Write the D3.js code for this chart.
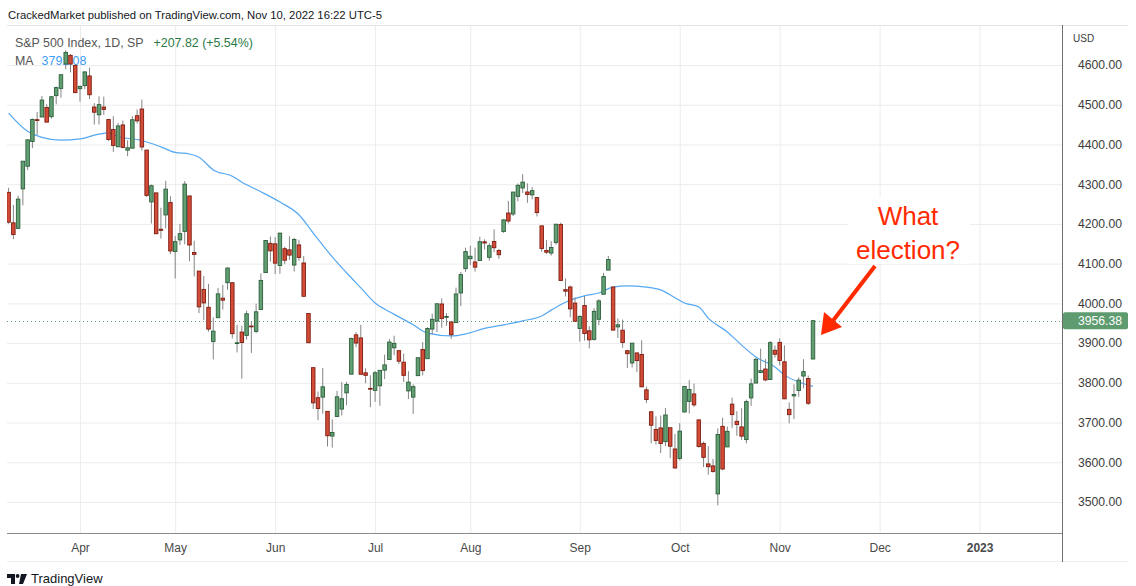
<!DOCTYPE html>
<html>
<head>
<meta charset="utf-8">
<script src="https://cdn.jsdelivr.net/npm/d3@7"></script>
<style>
  body { margin: 0; background: #fff; }
  svg { display: block; font-family: "Liberation Sans", Arial, sans-serif; }
</style>
</head>
<body>
<div id="chart"></div>
<script>
// daily bars, S&P 500, Mar 11 2022 -> Nov 10 2022 (one entry per trading day)
var dates = ["03-11","03-14","03-15","03-16","03-17","03-18","03-21","03-22","03-23","03-24","03-25","03-28","03-29","03-30","03-31",
  "04-01","04-04","04-05","04-06","04-07","04-08","04-11","04-12","04-13","04-14","04-18","04-19","04-20","04-21","04-22","04-25","04-26","04-27","04-28","04-29",
  "05-02","05-03","05-04","05-05","05-06","05-09","05-10","05-11","05-12","05-13","05-16","05-17","05-18","05-19","05-20","05-23","05-24","05-25","05-26","05-27","05-31",
  "06-01","06-02","06-03","06-06","06-07","06-08","06-09","06-10","06-13","06-14","06-15","06-16","06-17","06-21","06-22","06-23","06-24","06-27","06-28","06-29","06-30",
  "07-01","07-05","07-06","07-07","07-08","07-11","07-12","07-13","07-14","07-15","07-18","07-19","07-20","07-21","07-22","07-25","07-26","07-27","07-28","07-29",
  "08-01","08-02","08-03","08-04","08-05","08-08","08-09","08-10","08-11","08-12","08-15","08-16","08-17","08-18","08-19","08-22","08-23","08-24","08-25","08-26","08-29","08-30","08-31",
  "09-01","09-02","09-06","09-07","09-08","09-09","09-12","09-13","09-14","09-15","09-16","09-19","09-20","09-21","09-22","09-23","09-26","09-27","09-28","09-29","09-30",
  "10-03","10-04","10-05","10-06","10-07","10-10","10-11","10-12","10-13","10-14","10-17","10-18","10-19","10-20","10-21","10-24","10-25","10-26","10-27","10-28","10-31",
  "11-01","11-02","11-03","11-04","11-07","11-08","11-09","11-10"];

var opens = [4279.50,4202.75,4188.82,4288.14,4345.11,4407.34,4462.40,4469.10,4493.10,4469.98,4522.91,4541.09,4602.86,4624.20,4599.02,
  4540.32,4547.97,4572.45,4494.17,4474.65,4494.15,4462.64,4437.59,4394.30,4449.12,4385.63,4390.63,4472.26,4489.17,4385.83,4255.34,4278.14,4186.52,4222.58,4253.75,
  4130.61,4159.78,4181.18,4270.43,4128.17,4081.27,4035.18,3990.08,3903.95,3963.90,4013.02,4052.00,4051.98,3899.00,3927.76,3919.42,3942.94,3929.59,3984.60,4077.43,4151.09,
  4149.78,4095.41,4137.57,4134.72,4096.47,4147.12,4101.65,3974.39,3838.15,3762.52,3764.05,3728.18,3665.90,3715.31,3733.89,3774.71,3821.75,3920.76,3913.00,3825.09,3785.99,
  3781.00,3792.61,3831.98,3858.85,3888.26,3880.94,3851.95,3779.67,3763.99,3818.00,3883.79,3860.73,3935.32,3955.47,3998.43,3965.72,3953.22,3951.43,4026.13,4087.33,
  4112.38,4104.21,4107.96,4154.85,4115.87,4155.93,4133.11,4181.02,4227.40,4225.02,4269.37,4290.46,4280.40,4273.13,4266.31,4195.08,4133.09,4126.55,4153.26,4198.74,4034.58,4041.25,4000.67,
  3936.73,3994.66,3930.89,3909.43,3959.94,4022.94,4083.67,4041.23,3940.73,3932.41,3880.95,3849.91,3875.23,3871.40,3782.36,3727.14,3682.72,3686.44,3651.94,3687.01,3633.48,
  3609.78,3726.46,3753.25,3771.97,3706.74,3647.51,3595.86,3590.83,3520.37,3690.41,3638.65,3746.26,3703.11,3689.05,3657.10,3762.01,3799.44,3825.97,3834.69,3808.26,3881.85,
  3901.79,3852.90,3733.25,3766.98,3780.71,3817.02,3810.94,3859.89];

var highs = [4291.01,4247.57,4271.05,4357.86,4412.67,4465.40,4481.75,4522.00,4501.07,4520.58,4546.03,4575.65,4637.30,4627.77,4603.07,
  4548.70,4583.50,4593.45,4503.94,4521.16,4520.41,4464.35,4471.00,4453.92,4460.46,4410.31,4471.03,4488.29,4512.94,4385.83,4299.02,4278.14,4240.71,4308.45,4269.68,
  4169.81,4200.10,4307.66,4270.43,4157.69,4081.27,4068.82,4049.09,3964.80,4038.88,4046.46,4090.72,4051.98,3945.96,3943.42,3981.88,3955.68,3999.33,4075.14,4158.49,4168.34,
  4166.54,4177.51,4142.67,4168.78,4164.86,4160.14,4119.10,3974.39,3838.15,3778.18,3837.56,3728.18,3707.71,3779.65,3801.79,3802.58,3913.65,3927.72,3945.86,3836.50,3818.99,
  3829.82,3832.19,3870.91,3910.63,3918.50,3880.94,3873.41,3829.44,3796.41,3863.62,3902.44,3939.81,3974.13,3999.29,4012.44,3975.30,3953.22,4039.56,4078.95,4140.15,
  4144.95,4140.47,4167.66,4161.29,4151.58,4186.62,4137.30,4211.03,4257.91,4280.47,4301.79,4325.28,4302.18,4292.53,4266.31,4195.08,4159.77,4156.56,4200.54,4203.04,4062.99,4044.98,4015.37,
  3970.23,4018.43,3942.55,3987.89,4010.50,4076.81,4119.28,4041.23,3961.94,3959.14,3880.95,3900.45,3876.01,3907.07,3790.68,3727.14,3715.67,3717.53,3736.74,3687.01,3671.44,
  3698.35,3791.92,3806.91,3797.93,3706.74,3652.17,3640.66,3608.34,3685.41,3712.00,3689.73,3762.79,3728.58,3736.00,3757.89,3810.74,3862.85,3886.15,3859.95,3905.42,3893.73,
  3911.79,3894.44,3750.59,3796.34,3813.95,3859.40,3818.20,3958.33];

var lows = [4200.49,4161.72,4187.90,4246.69,4335.65,4390.57,4424.30,4469.10,4455.81,4465.17,4501.07,4517.69,4589.66,4581.32,4530.41,
  4507.57,4539.21,4514.17,4450.04,4450.30,4474.60,4408.38,4381.34,4392.70,4390.77,4370.30,4390.63,4452.68,4384.47,4267.62,4200.82,4175.04,4162.90,4188.63,4124.28,
  4062.51,4147.08,4148.91,4106.01,4067.91,3975.48,3958.17,3928.82,3858.87,3963.90,3983.99,4033.93,3911.91,3876.58,3810.32,3909.04,3875.13,3925.03,3984.60,4077.43,4104.88,
  4073.85,4074.37,4098.67,4109.18,4080.19,4107.20,4017.17,3900.16,3734.30,3705.68,3722.30,3639.77,3636.87,3715.31,3717.69,3743.52,3821.75,3889.66,3820.14,3799.02,3738.67,
  3752.10,3742.06,3809.37,3858.85,3869.34,3847.22,3802.36,3759.07,3721.56,3817.18,3818.63,3860.73,3922.03,3927.64,3938.58,3943.46,3910.74,3951.43,3992.97,4079.22,
  4096.02,4079.81,4107.96,4135.42,4107.31,4128.97,4112.09,4177.26,4201.41,4219.78,4256.90,4277.77,4253.08,4261.98,4218.70,4129.86,4124.03,4119.97,4147.59,4057.66,4017.42,3965.21,3954.53,
  3903.65,3906.21,3886.75,3906.03,3944.81,4022.94,4083.67,3932.69,3912.92,3888.28,3837.08,3838.50,3827.54,3789.49,3749.12,3647.47,3644.76,3623.29,3640.61,3610.40,3584.13,
  3604.93,3726.46,3722.66,3739.22,3636.66,3588.10,3568.45,3573.86,3491.58,3579.68,3638.65,3686.53,3666.51,3656.44,3647.42,3741.65,3799.44,3824.07,3803.79,3808.26,3863.18,
  3843.80,3758.68,3698.15,3708.84,3764.70,3786.28,3744.22,3859.89];

var closes = [4204.31,4173.11,4262.45,4357.86,4411.67,4463.12,4461.18,4511.61,4456.24,4520.16,4543.06,4575.52,4631.60,4602.45,4530.41,
  4545.86,4582.64,4525.12,4481.15,4500.21,4488.28,4412.53,4397.45,4446.59,4392.59,4391.69,4462.21,4459.45,4393.66,4271.78,4296.12,4175.20,4183.96,4287.50,4131.93,
  4155.38,4175.48,4300.17,4146.87,4123.34,3991.24,4001.05,3935.18,3930.08,4023.89,4008.01,4088.85,3923.68,3900.79,3901.36,3973.75,3941.48,3978.73,4057.84,4158.24,4132.15,
  4101.23,4176.82,4108.54,4121.43,4160.68,4115.77,4017.82,3900.86,3749.63,3735.48,3789.99,3666.77,3674.84,3764.79,3759.89,3795.73,3911.74,3900.11,3821.55,3818.83,3785.38,
  3825.33,3831.39,3845.08,3902.62,3899.38,3854.43,3818.80,3801.78,3790.38,3863.16,3830.85,3936.69,3959.90,3998.95,3961.63,3966.84,3921.05,4023.61,4072.43,4130.29,
  4118.63,4091.19,4155.17,4151.94,4145.19,4140.06,4122.47,4210.24,4207.27,4280.15,4297.14,4305.20,4274.04,4283.74,4228.48,4137.99,4128.73,4140.77,4199.12,4057.66,4030.61,3986.16,3955.00,
  3966.85,3924.26,3908.19,3979.87,4006.18,4067.36,4110.41,3932.69,3946.01,3901.35,3873.33,3899.89,3855.93,3789.93,3757.99,3693.23,3655.04,3647.29,3719.04,3640.47,3585.62,
  3678.43,3790.93,3783.28,3744.52,3639.66,3612.39,3588.84,3577.03,3669.91,3583.07,3677.95,3719.98,3695.16,3665.78,3752.75,3797.34,3859.11,3830.60,3807.30,3901.06,3871.98,
  3856.10,3759.69,3719.89,3770.55,3806.80,3828.11,3748.57,3956.38];

// moving average line at these bar numbers
var maBar = [0,4,7,11,15,19,21,23,28,32,35,38,40,43,47,49,53,57,61,64,68,71,74,77,80,82,85,88,93,96,100,104,108,112,114,117,121,124,127,130,134,137,140,142,145,147,151,154,157,161,163,166,169];
var maVal = [4479,4433,4418,4411,4414,4426,4429,4420,4410,4394,4380,4376,4368,4336,4320,4305,4281,4255,4223,4177,4117,4077,4039,4001,3979,3966,3946,3925,3918,3923,3937,3946,3956,3968,3983,4003,4019,4026,4041,4044,4041,4034,4014,4001,3991,3963,3928,3895,3865,3840,3820,3802,3791.08];

// axes
var monthBar = [15, 35, 56, 77, 97, 120, 141, 162, 183, 204];
var monthLbl = ["Apr", "May", "Jun", "Jul", "Aug", "Sep", "Oct", "Nov", "Dec", "2023"];
var priceTicks = [3500, 3600, 3700, 3800, 3900, 4000, 4100, 4200, 4300, 4400, 4500, 4600];
var lastPrice = 3956.38;

var width = 1136, height = 586;
var pLeft = 7, pRight = 1062, pTop = 25, pBottom = 533;
var up = "#62a074", upLine = "#2c5e3a", dn = "#d34c37", dnLine = "#7e1c10";

var x = d3.scaleLinear().domain([0, 204]).range([8.6, 979.6]);
var y = d3.scaleLinear().domain([3500, 4600]).range([502, 65]);

var svg = d3.select("#chart").append("svg")
    .attr("width", width)
    .attr("height", height);

svg.append("defs").append("clipPath").attr("id", "plotclip")
    .append("rect").attr("x", pLeft).attr("y", pTop).attr("width", pRight - pLeft).attr("height", pBottom - pTop);

// grid
svg.append("g")
    .attr("transform", "translate(0," + pBottom + ")")
    .call(d3.axisBottom(x).tickValues(monthBar).tickSize(-(pBottom - pTop)).tickFormat(""))
    .call(function (g) { g.select(".domain").remove(); })
    .selectAll("line").attr("stroke", "#ececec");

svg.append("g")
    .attr("transform", "translate(" + pRight + ",0)")
    .call(d3.axisLeft(y).tickValues(priceTicks).tickSize(pRight - pLeft).tickFormat(""))
    .call(function (g) { g.select(".domain").remove(); })
    .selectAll("line").attr("stroke", "#ececec");

// frame lines
svg.append("line").attr("x1", pLeft).attr("x2", 1128).attr("y1", pTop + 0.5).attr("y2", pTop + 0.5).attr("stroke", "#e3e3e3");
svg.append("line").attr("x1", pLeft).attr("x2", pRight).attr("y1", pBottom + 0.5).attr("y2", pBottom + 0.5).attr("stroke", "#8a8a8a").attr("stroke-width", 1.2);
svg.append("line").attr("x1", pLeft).attr("x2", 1128).attr("y1", 561.5).attr("y2", 561.5).attr("stroke", "#efefef");
svg.append("line").attr("x1", pRight + 0.5).attr("x2", pRight + 0.5).attr("y1", pTop).attr("y2", 562).attr("stroke", "#6e6e6e");

// header
svg.append("text").attr("x", 8).attr("y", 19)
    .attr("font-size", 11.3).attr("fill", "#131722")
    .text("CrackedMarket published on TradingView.com, Nov 10, 2022 16:22 UTC-5");

var leg = svg.append("text").attr("x", 15).attr("y", 47).attr("font-size", 12.4);
leg.append("tspan").attr("fill", "#555").text("S&P 500 Index, 1D, SP");
leg.append("tspan").attr("dx", 10).attr("fill", "#2b7a45").text("+207.82 (+5.54%)");
var leg2 = svg.append("text").attr("x", 15).attr("y", 65).attr("font-size", 12.4);
leg2.append("tspan").attr("fill", "#555").text("MA");
leg2.append("tspan").attr("dx", 8).attr("fill", "#3d9cf3").text(d3.format(".2f")(maVal[maVal.length - 1]));

// last price dotted line
svg.append("line")
    .attr("x1", pLeft).attr("x2", pRight)
    .attr("y1", Math.round(y(lastPrice)) + 0.5).attr("y2", Math.round(y(lastPrice)) + 0.5)
    .attr("stroke", "#5e9c70").attr("stroke-dasharray", "1,3");

var plot = svg.append("g").attr("clip-path", "url(#plotclip)");

// moving average
var maPts = maBar.map(function (b, i) { return {b: b, v: maVal[i]}; });
plot.append("path")
    .datum(maPts)
    .attr("fill", "none")
    .attr("stroke", "#55a8f3")
    .attr("stroke-width", 1.2)
    .attr("d", d3.line()
        .x(function (d) { return x(d.b); })
        .y(function (d) { return y(d.v); })
        .curve(d3.curveMonotoneX));

// candles
var bars = dates.map(function (d, i) {
    return {i: i, o: opens[i], h: highs[i], l: lows[i], c: closes[i]};
});

var candle = plot.selectAll("g.candle")
    .data(bars)
    .enter().append("g")
    .attr("class", "candle");

candle.append("line")
    .attr("x1", function (d) { return x(d.i); })
    .attr("x2", function (d) { return x(d.i); })
    .attr("y1", function (d) { return y(d.h); })
    .attr("y2", function (d) { return y(d.l); })
    .attr("stroke", "#858585")
    .attr("stroke-width", 1);

candle.append("rect")
    .attr("x", function (d) { return x(d.i) - 1.75; })
    .attr("width", 3.5)
    .attr("y", function (d) { return y(Math.max(d.o, d.c)); })
    .attr("height", function (d) { return Math.max(0.8, Math.abs(y(d.o) - y(d.c))); })
    .attr("fill", function (d) { return d.c >= d.o ? up : dn; })
    .attr("stroke", function (d) { return d.c >= d.o ? upLine : dnLine; })
    .attr("stroke-width", 0.9);

// price axis
var yAxis = svg.append("g")
    .attr("transform", "translate(" + pRight + ",0)")
    .call(d3.axisRight(y).tickValues(priceTicks).tickSize(0).tickPadding(16).tickFormat(d3.format(".2f")));
yAxis.select(".domain").remove();
yAxis.selectAll("text").attr("font-size", 12.2).attr("fill", "#3c3c3c")
    .attr("font-family", "'Liberation Sans', Arial, sans-serif");

svg.append("text").attr("x", 1073).attr("y", 42).attr("font-size", 10).attr("fill", "#3c3c3c").text("USD");

svg.append("rect")
    .attr("x", pRight + 1).attr("y", y(lastPrice) - 8.5)
    .attr("width", 65).attr("height", 17).attr("rx", 2)
    .attr("fill", "#5e9c70");
svg.append("text")
    .attr("x", pRight + 16).attr("y", y(lastPrice)).attr("dy", "0.35em")
    .attr("font-size", 12.2).attr("fill", "#fff")
    .text(d3.format(".2f")(lastPrice));

// time axis
var xAxis = svg.append("g")
    .attr("transform", "translate(0," + pBottom + ")")
    .call(d3.axisBottom(x).tickValues(monthBar).tickSize(0).tickPadding(10)
        .tickFormat(function (d, i) { return monthLbl[i]; }));
xAxis.select(".domain").remove();
xAxis.selectAll("text").attr("font-size", 12).attr("fill", "#4a4a4a")
    .attr("font-family", "'Liberation Sans', Arial, sans-serif")
    .attr("font-weight", function (d, i) { return monthLbl[i] === "2023" ? "bold" : null; });

// annotation
svg.append("rect").attr("x", 848).attr("y", 197).attr("width", 122).attr("height", 67).attr("fill", "#fff");
var note = svg.append("text").attr("text-anchor", "middle").attr("font-size", 26).attr("fill", "#ff2a00");
note.append("tspan").attr("x", 908).attr("y", 225).text("What");
note.append("tspan").attr("x", 908).attr("y", 259).text("election?");

svg.append("line")
    .attr("x1", 875).attr("y1", 266).attr("x2", 832).attr("y2", 322)
    .attr("stroke", "#ff2a00").attr("stroke-width", 4);
svg.append("path")
    .attr("d", "M821,335 L824,312 L842,327 Z")
    .attr("fill", "#ff2a00");

// footer logo
var logo = svg.append("g").attr("fill", "#131722");
logo.append("path").attr("d", "M7,574 H15 V584 H11 V578 H7 Z");
logo.append("circle").attr("cx", 17.6).attr("cy", 576).attr("r", 1.9);
logo.append("path").attr("d", "M21,574 H27 L23,584 H19 Z");
svg.append("text").attr("x", 31).attr("y", 583).attr("font-size", 13).attr("fill", "#131722").text("TradingView");
</script>
</body>
</html>
